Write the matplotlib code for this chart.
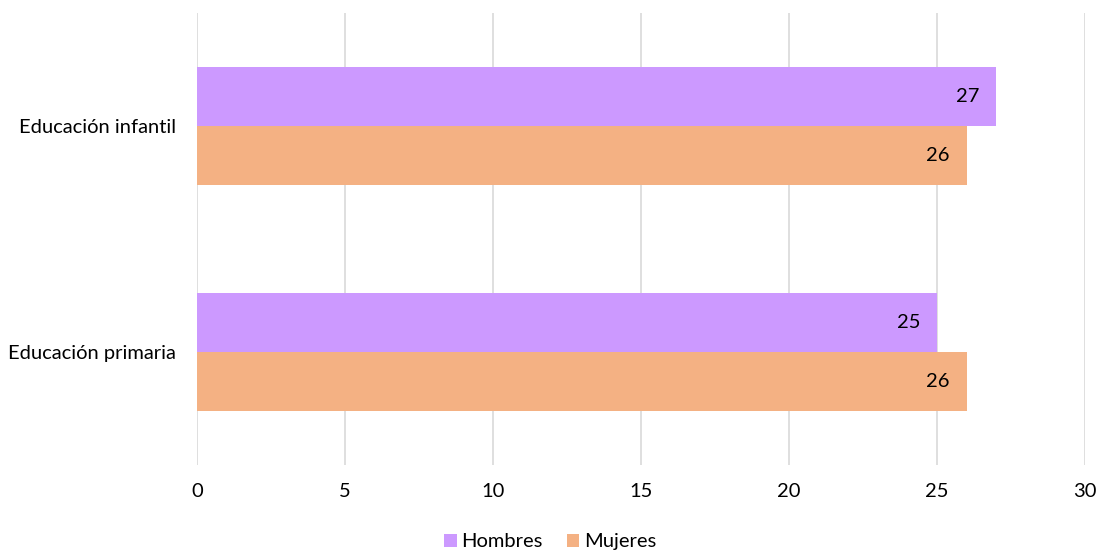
import matplotlib.pyplot as plt
import numpy as np

# datos
categorias = ['Educación infantil', 'Educación primaria']
hombres = [27, 25]
mujeres = [26, 26]
series = ['Hombres', 'Mujeres']
colores = ['#CC99FF', '#F4B183']

plt.rcParams['font.family'] = ['Lato', 'DejaVu Sans']

fig = plt.figure(figsize=(11.01, 5.54), dpi=100)
ax = fig.add_axes([197 / 1101, 1 - 465 / 554, (1085 - 197) / 1101, (465 - 13) / 554])

y = np.arange(len(categorias))
alto = 0.26

b1 = ax.barh(y - alto / 2, hombres, height=alto, color=colores[0], label=series[0], zorder=2)
b2 = ax.barh(y + alto / 2, mujeres, height=alto, color=colores[1], label=series[1], zorder=2)

# etiquetas de valor dentro de la barra
for barras in (b1, b2):
    ax.bar_label(barras, labels=[f'{v:g}' for v in barras.datavalues],
                 padding=-12, fontsize=14.5, color='black')
for t in ax.texts:
    t.set_ha('right')

ax.set_xlim(0, 30)
ax.set_ylim(1.5, -0.5)
ax.set_xticks(range(0, 31, 5))
ax.set_yticks(y)
ax.set_yticklabels(categorias)
ax.tick_params(axis='both', length=0, labelsize=14.5, colors='black')
ax.tick_params(axis='x', pad=13)
ax.tick_params(axis='y', pad=15)
ax.grid(True, axis='x', color='#D9D9D9', linewidth=1.2, zorder=0)
for s in ax.spines.values():
    s.set_visible(False)

fig.legend(loc='lower center', bbox_to_anchor=(0.5, 0.003), ncol=2, frameon=False,
           fontsize=14.5, handlelength=0.6, handleheight=0.6, handletextpad=0.25,
           columnspacing=1.2, borderaxespad=0.0, borderpad=0.1)

fig.savefig('out.png', dpi=100)
